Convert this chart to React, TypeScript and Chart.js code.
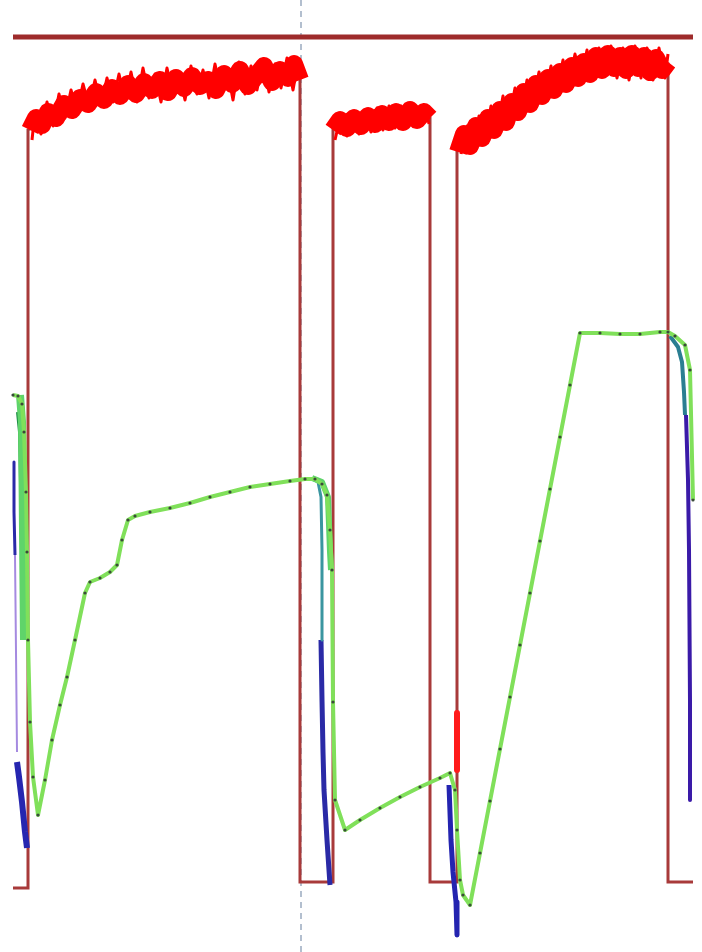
import React, { useEffect, useRef } from "react";
import { Chart, registerables } from "chart.js";

Chart.register(...registerables);

type P = [number, number];

// time axis (samples) and signal level (arbitrary units)
const referenceLevel: P[] = [[13, 915], [693, 915]];
const markerTime: P[] = [[301, 0], [301, 952]];

const gateSignal: P[] = [
  [13, 64], [28, 64], [28, 822], [60, 840], [100, 852], [150, 862], [200, 868], [250, 872],
  [300, 874], [300, 70], [333, 70], [333, 827], [380, 832], [430, 834], [430, 70],
  [457, 70], [457, 802], [490, 828], [520, 846], [550, 864], [580, 878], [610, 888],
  [640, 889], [668, 888], [668, 70], [693, 70],
];

const powerBurst1: P[] = [
  [30, 822], [36, 834], [42, 827], [48, 840], [56, 834], [64, 848], [72, 842], [80, 854],
  [88, 848], [96, 860], [104, 852], [112, 864], [120, 856], [128, 868], [136, 858],
  [144, 870], [152, 862], [160, 872], [168, 860], [176, 874], [184, 864], [192, 876],
  [200, 866], [208, 872], [216, 862], [224, 878], [232, 868], [240, 882], [248, 866],
  [256, 876], [264, 886], [272, 870], [280, 882], [288, 874], [294, 888], [300, 872],
];
const powerBurst2: P[] = [
  [333, 822], [340, 832], [347, 824], [354, 834], [361, 826], [368, 836], [375, 828],
  [382, 838], [389, 830], [396, 840], [403, 830], [410, 842], [417, 832], [424, 840], [430, 834],
];
const powerBurst3: P[] = [
  [458, 800], [464, 818], [470, 806], [476, 826], [482, 814], [488, 834], [494, 822],
  [500, 842], [506, 830], [512, 850], [518, 840], [524, 860], [530, 848], [536, 868],
  [542, 856], [548, 874], [554, 862], [560, 880], [566, 868], [572, 886], [578, 874],
  [584, 890], [590, 878], [596, 896], [602, 882], [608, 898], [614, 884], [620, 896],
  [626, 882], [632, 898], [638, 884], [644, 896], [650, 880], [656, 894], [662, 882], [668, 890],
];
const powerSpikes1: P[] = [
  [32, 812], [35, 840], [41, 818], [47, 850], [53, 826], [59, 858], [65, 834], [71, 862],
  [77, 840], [83, 868], [89, 845], [95, 872], [101, 846], [107, 874], [113, 850], [119, 878],
  [125, 852], [131, 880], [137, 850], [143, 884], [149, 854], [155, 878], [161, 850],
  [167, 884], [173, 856], [179, 880], [185, 852], [191, 886], [197, 858], [203, 882],
  [209, 854], [215, 888], [221, 860], [227, 884], [233, 852], [239, 890], [245, 858],
  [251, 886], [257, 862], [263, 892], [269, 860], [275, 888], [281, 864], [287, 894],
  [293, 862], [298, 890],
];
const powerSpikes2: P[] = [
  [335, 812], [341, 838], [347, 816], [353, 840], [359, 818], [365, 842], [371, 820],
  [377, 844], [383, 822], [389, 846], [395, 824], [401, 846], [407, 826], [413, 848],
  [419, 826], [425, 846], [429, 828],
];
const powerSpikes3: P[] = [
  [461, 798], [467, 826], [473, 804], [479, 836], [485, 814], [491, 846], [497, 822],
  [503, 856], [509, 832], [515, 864], [521, 838], [527, 872], [533, 850], [539, 880],
  [545, 856], [551, 886], [557, 862], [563, 892], [569, 868], [575, 898], [581, 872],
  [587, 902], [593, 874], [599, 904], [605, 876], [611, 906], [617, 874], [623, 904],
  [629, 872], [635, 906], [641, 874], [647, 904], [653, 872], [659, 904], [665, 874], [668, 898],
];
const powerEdge: P[] = [[457, 239], [457, 182]];

const sensorMain: P[] = [
  [13, 557], [18, 556], [22, 548], [24, 520], [26, 460], [27, 400], [28, 312], [30, 230],
  [33, 175], [38, 137], [45, 172], [52, 212], [60, 247], [67, 275], [75, 312], [85, 359],
  [90, 370], [100, 374], [110, 380], [117, 387], [122, 412], [128, 432], [135, 436],
  [150, 440], [170, 444], [190, 449], [210, 455], [230, 460], [250, 465], [270, 468],
  [290, 471], [305, 473], [315, 473], [322, 468], [327, 457], [330, 422], [332, 382],
  [333, 250], [335, 152], [345, 122], [360, 132], [380, 144], [400, 155], [420, 165],
  [440, 174], [450, 179], [455, 162], [457, 122], [460, 72], [463, 57], [470, 47],
  [480, 99], [490, 151], [500, 203], [510, 255], [520, 307], [530, 359], [540, 411],
  [550, 463], [560, 515], [570, 567], [580, 619], [600, 619], [620, 618], [640, 618],
  [660, 620], [668, 620], [675, 616], [685, 607], [690, 582], [693, 452],
];
const sensorGreenLeft: P[] = [[20, 557], [22, 530], [23, 420], [24, 312]];
const sensorGreenMid: P[] = [[312, 474], [322, 470], [328, 455], [330, 400], [331, 382]];

const sensorTealLeft: P[] = [[18, 540], [20, 520], [21, 470], [22, 430]];
const sensorTealMid: P[] = [[312, 473], [318, 470], [321, 455], [322, 402], [322, 312]];
const sensorTealRight: P[] = [[670, 616], [678, 605], [682, 590], [684, 560], [685, 537]];

const sensorBlueLeftA: P[] = [[14, 490], [14, 440], [15, 397]];
const sensorPurpleLeft: P[] = [[15, 397], [16, 300], [17, 200]];
const sensorBlueLeftB: P[] = [[17, 190], [19, 175], [22, 150], [25, 120], [27, 104]];
const sensorBlueMid: P[] = [[321, 312], [322, 252], [323, 200], [324, 162], [327, 112], [330, 67]];
const sensorBlueDip: P[] = [[449, 167], [451, 112], [453, 80], [456, 50], [457, 17]];
const sensorBlueRight: P[] = [[686, 537], [688, 472], [689, 402], [690, 250], [690, 152]];

function ds(data: P[], color: string, width: number, order: number, extra: any = {}) {
  return {
    data: data.map(([x, y]) => ({ x, y })),
    borderColor: color,
    backgroundColor: color,
    borderWidth: width,
    pointRadius: 0,
    fill: false,
    tension: 0,
    order,
    borderJoinStyle: "round",
    ...extra,
  };
}

export default function App() {
  const ref = useRef<HTMLCanvasElement | null>(null);
  useEffect(() => {
    if (!ref.current) return;
    const chart = new Chart(ref.current, {
      type: "line",
      data: {
        datasets: [
          ds(referenceLevel, "#9e2b2b", 5, 0, { borderJoinStyle: "miter" }),
          ds(powerEdge, "#ff1a1a", 6, 2),
          ds(sensorMain, "#80e05a", 4, 3, {
            pointRadius: 1.6,
            pointBackgroundColor: "#3a4a3a",
            pointBorderWidth: 0,
          }),
          ds(sensorGreenLeft, "#5fd46a", 8, 4),
          ds(sensorGreenMid, "#5fd46a", 6, 4),
          ds(sensorTealLeft, "#1f8f46", 4, 4),
          ds(sensorTealMid, "#3a96a0", 3, 4),
          ds(sensorTealRight, "#2a7e92", 4, 4),
          ds(sensorBlueLeftA, "#2a2aa8", 3, 5),
          ds(sensorPurpleLeft, "#a58ae0", 2, 5),
          ds(sensorBlueLeftB, "#2626b0", 6, 5),
          ds(sensorBlueMid, "#2a2aa6", 5, 5),
          ds(sensorBlueDip, "#2424b0", 5, 5),
          ds(sensorBlueRight, "#3a1aa8", 4, 5),
          ds(powerBurst1, "#ff0000", 18, 7),
          ds(powerBurst2, "#ff0000", 18, 7),
          ds(powerBurst3, "#ff0000", 18, 7),
          ds(powerSpikes1, "#ff0000", 3, 7),
          ds(powerSpikes2, "#ff0000", 3, 7),
          ds(powerSpikes3, "#ff0000", 3, 7),
          ds(gateSignal, "#a83a3a", 3, 8, { borderJoinStyle: "miter" }),
          ds(markerTime, "rgba(160,175,195,0.8)", 2, 10, { borderDash: [6, 5] }),
        ],
      },
      options: {
        animation: false,
        responsive: false,
        layout: { padding: 0, autoPadding: false },
        plugins: { legend: { display: false }, tooltip: { enabled: false } },
        scales: {
          x: { type: "linear", min: 0, max: 702, display: false },
          y: { type: "linear", min: 0, max: 952, display: false },
        },
      },
    });
    return () => chart.destroy();
  }, []);
  return (
    <div style={{ position: "absolute", left: 0, top: 0, width: 702, height: 952, background: "#fff" }}>
      <canvas ref={ref} width={702} height={952} style={{ width: 702, height: 952 }} />
    </div>
  );
}
